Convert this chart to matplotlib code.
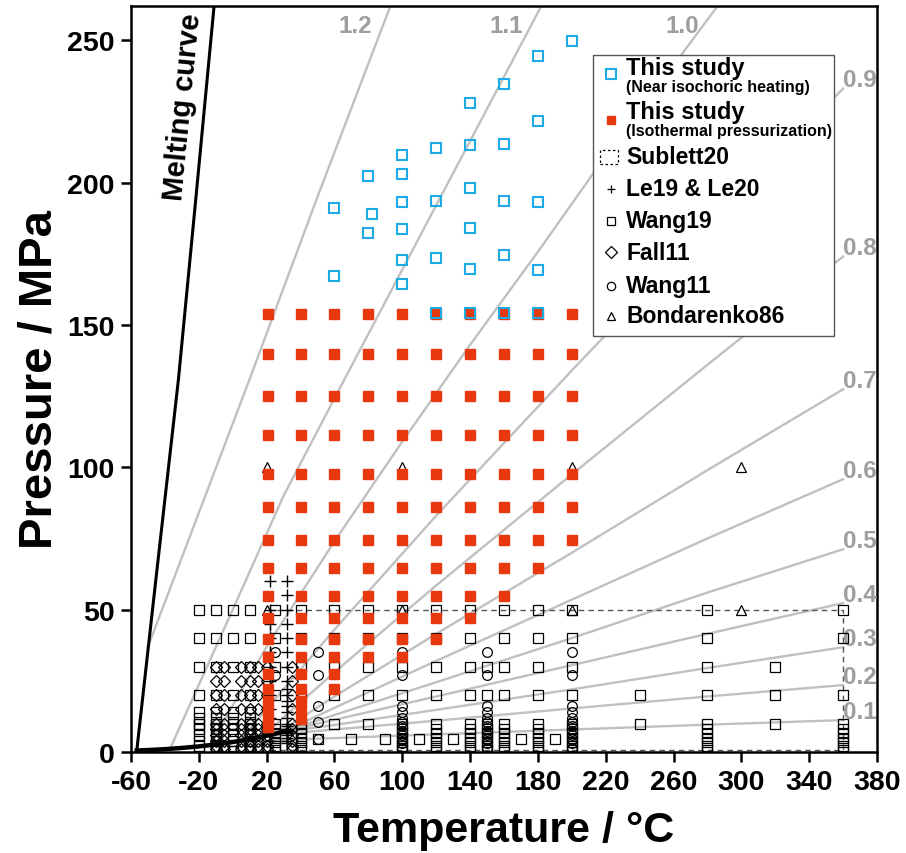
import matplotlib
matplotlib.use("Agg")
import matplotlib.pyplot as plt
from matplotlib.patches import Rectangle

plt.rcParams['font.family'] = ['Liberation Sans', 'DejaVu Sans']
plt.rcParams['font.weight'] = 'bold'
plt.rcParams['axes.unicode_minus'] = False

# CO2 liquid-vapour curve and melting curve
sat_T = [-56.6, -50, -40, -30, -20, -10, 0, 10, 20, 25, 31]
sat_P = [0.52, 0.68, 1.00, 1.43, 1.97, 2.65, 3.49, 4.50, 5.73, 6.43, 7.38]
melt_T = [-56.6, -44.5, -32, -21.5, -11]
melt_P = [0.5, 65, 131, 196, 262]

# isochores (g/cm3)
iso_rho = ['1.2', '1.1', '1.0', '0.9', '0.8', '0.7', '0.6', '0.5', '0.4', '0.3', '0.2', '0.1']
iso_T = [
    [-50, -27, 10, 50, 93],
    [-37, 0, 30, 66, 120, 182],
    [-13.5, 20, 60, 100, 140, 181, 213, 286],
    [4, 60, 120, 200, 280, 360],
    [17, 60, 120, 200, 280, 360],
    [26, 60, 120, 200, 280, 360],
    [30, 60, 120, 200, 280, 360],
    [31, 60, 120, 200, 280, 360],
    [30.7, 60, 120, 200, 280, 360],
    [28.5, 60, 120, 200, 280, 360],
    [20.5, 60, 120, 200, 280, 360],
    [0.7, 60, 120, 200, 280, 360],
]
iso_P = [
    [37, 73, 131, 195, 262],
    [1.1, 50, 90, 131, 192, 262],
    [2.4, 37, 74, 109, 143, 176.5, 203.5, 262],
    [3.9, 43, 83, 134, 184, 233],
    [5.3, 28, 58.5, 97.5, 136, 174],
    [6.6, 19.5, 41.5, 70, 99, 127.4],
    [7.2, 15.5, 32, 53.5, 75, 95.8],
    [7.38, 13, 24.5, 40, 56, 71.2],
    [7.3, 11.3, 19.5, 30.5, 41.5, 52.3],
    [6.9, 9.5, 14.8, 22, 29.5, 36.8],
    [5.8, 7.9, 11, 15.3, 19.5, 23.5],
    [3.55, 4.9, 6.2, 7.9, 9.6, 11.2],
]

# This study: near isochoric heating
blue_T = [200, 180, 160, 140, 180, 100, 120, 140, 160, 80, 100, 140, 60, 82, 100, 120,
          160, 180, 80, 100, 140, 160, 180, 100, 120, 140, 60, 100, 120, 140, 160, 180]
blue_P = [249.7, 244.4, 234.6, 227.8, 221.7, 209.8, 212, 213.2, 213.4, 202.2, 202.9, 198,
          191, 188.8, 193, 193.4, 193.6, 193.2, 182.2, 183.6, 183.9, 174.4, 169.2, 172.9,
          173.6, 169.5, 167, 164.2, 154.2, 154.2, 154.2, 154.2]

# This study: isothermal pressurization
red_T = [21, 40, 60, 80, 100, 120, 140, 160, 180, 200]
red_levels = [154, 139.7, 125.1, 111.4, 97.8, 86.1, 74.4, 64.6, 54.9, 47.1, 39.8, 33.2,
              27.3, 22.2, 17.9, 14.6, 11.6, 8.8]
red_Pmin = [8.8, 11.6, 22.2, 33.2, 33.2, 39.8, 47.1, 54.9, 64.6, 74.4]

# Sublett20 box
sub_T = [22, 360]
sub_P = [0.7, 50]

# Le19 & Le20
le_T = [22] * 14 + [32] * 26
le_P = [60, 50, 45, 40, 35, 30, 25, 20, 15, 12, 10, 8, 6, 4,
        60, 55, 50, 45, 40, 35, 30, 25, 22, 20, 18, 16, 14, 12, 10, 9, 8, 7.6, 7.4,
        7.2, 7, 6.5, 6, 5, 4, 3]

# Wang19
w19_T = [-20, -10, 0, 10, 25, 40, 60, 80, 100, 120, 140, 160, 180, 200, 280]
w19_P = [50, 40, 30, 20, 10]
w19_xT = [150, 150, 150, 240, 240, 320, 320, 320, 360, 360, 360, 360, 50, 70, 90, 110, 130, 170, 190]
w19_xP = [30, 20, 10, 20, 10, 30, 20, 10, 50, 40, 20, 10, 4.6, 4.6, 4.6, 4.6, 4.6, 4.6, 4.6]
w19_lowT = [-20, -10, 0, 10, 25, 40, 100, 120, 140, 150, 160, 180, 200, 280, 360]
w19_lowP = [8, 6.5, 5, 3.5, 2, 0.8]
w19_coldP = [14, 12, 10, 8, 6, 4, 2, 0.5]

# Fall11
fall_T = [-10, -5, 5, 10, 15, 20, 35]
fall_P = [30, 25, 20, 15, 10, 8, 6, 4, 2, 1]

# Wang11
w11_T = [25, 25, 50, 50, 50, 50, 50]
w11_P = [35, 27, 35, 27, 16, 10.5, 4.6]
w11_stackT = [100, 150, 200]
w11_stackP = [35, 27, 16, 14, 12, 10.5, 9, 7.5, 6, 4.6, 3, 1.5]

# Bondarenko86
bon_T = [20, 100, 200, 300, 20, 100, 200, 300]
bon_P = [100, 100, 100, 100, 50, 50, 50, 50]

BLUE = '#1dabe6'
RED = '#e8380d'
GRAY = '#c0c0c0'

fig = plt.figure(figsize=(9.06, 8.54), dpi=100)
ax = fig.add_axes([131 / 906, 1 - 753 / 854, 746 / 906, 746 / 854])
ax.set_xlim(-60, 380)
ax.set_ylim(0, 262)

# isochores + labels
for rho, t, p in zip(iso_rho, iso_T, iso_P):
    ax.plot(t, p, color=GRAY, lw=1.7, zorder=1)
    if p[-1] >= 262:
        ax.annotate(rho, (t[-1], p[-1]), xytext=(-35, -19), textcoords='offset pixels',
                    ha='center', va='center', color='#9e9e9e', fontsize=17.5, fontweight='bold')
    else:
        ax.annotate(rho, (t[-1], p[-1]), xytext=(0, 9), textcoords='offset pixels',
                    ha='left', va='center', color='#9e9e9e', fontsize=17.5, fontweight='bold',
                    annotation_clip=False)

ax.plot(melt_T, melt_P, color='black', lw=2.2, zorder=3)
ax.plot(sat_T, sat_P, color='black', lw=3.2, zorder=3)
ax.text(-29.5, 227, 'Melting curve', rotation=84.5, ha='center', va='center',
        fontsize=21, fontweight='bold')

# Sublett20
ax.add_patch(Rectangle((sub_T[0], sub_P[0]), sub_T[1] - sub_T[0], sub_P[1] - sub_P[0],
                       fill=False, ls=(0, (4, 3)), ec='#555555', lw=1, zorder=2))

mk = dict(ls='none', mfc='none', mec='black', mew=0.9, zorder=4)

# Wang19
wx, wy = [], []
for t in w19_T:
    for p in w19_P:
        wx.append(t); wy.append(p)
for t in w19_lowT:
    for p in (w19_coldP if t <= 10 else w19_lowP):
        wx.append(t); wy.append(p)
wx += w19_xT; wy += w19_xP
ax.plot(wx, wy, marker='s', ms=7, **mk)

# Fall11
fx, fy = [], []
for t in fall_T:
    for p in fall_P:
        fx.append(t); fy.append(p)
ax.plot(fx, fy, marker='D', ms=6, **mk)

# Wang11
cx, cy = list(w11_T), list(w11_P)
for t in w11_stackT:
    for p in w11_stackP:
        cx.append(t); cy.append(p)
ax.plot(cx, cy, marker='o', ms=7, **mk)

# Le19 & Le20
ax.plot(le_T, le_P, marker='+', ms=8, ls='none', color='black', mew=1.0, zorder=4)

# Bondarenko86
ax.plot(bon_T, bon_P, marker='^', ms=7, **mk)

# this study
rx, ry = [], []
for t, pmin in zip(red_T, red_Pmin):
    for p in red_levels:
        if p >= pmin:
            rx.append(t); ry.append(p)
ax.plot(rx, ry, marker='s', ms=6.5, ls='none', color=RED, mec=RED, zorder=5)
ax.plot(blue_T, blue_P, marker='s', ms=7.5, ls='none', mfc='none', mec=BLUE, mew=1.5, zorder=5)

# axes styling
ax.set_xticks(range(-60, 381, 40))
ax.set_yticks(range(0, 251, 50))
for s in ax.spines.values():
    s.set_linewidth(1.8)
ax.tick_params(direction='out', length=7, width=1.8, labelsize=20.5, pad=5)
for lab in ax.get_xticklabels() + ax.get_yticklabels():
    lab.set_fontweight('bold')
ax.set_xlabel('Temperature / °C', fontsize=31, fontweight='bold', labelpad=11)
ax.set_ylabel('Pressure / MPa', fontsize=34, fontweight='bold', labelpad=4)

# legend, drawn by hand in axes fraction
T = ax.transAxes
ax.add_patch(Rectangle((0.6193, 0.5576), 0.3231, 0.3767, transform=T, fc='white',
                       ec='#555555', lw=1, zorder=8))
mx, tx = 0.643, 0.664
ax.plot([mx], [0.909], transform=T, marker='s', ms=7, mfc='none', mec=BLUE, mew=1.5, zorder=9)
ax.text(tx, 0.9175, 'This study', transform=T, fontsize=17, va='center', zorder=9)
ax.text(tx, 0.8915, '(Near isochoric heating)', transform=T, fontsize=11.5, va='center', zorder=9)
ax.plot([mx], [0.847], transform=T, marker='s', ms=6, color=RED, zorder=9)
ax.text(tx, 0.8585, 'This study', transform=T, fontsize=17, va='center', zorder=9)
ax.text(tx, 0.8335, '(Isothermal pressurization)', transform=T, fontsize=11.5, va='center', zorder=9)
ax.add_patch(Rectangle((0.6287, 0.7876), 0.024, 0.020, transform=T, fill=False,
                       ls=(0, (2, 2)), ec='black', lw=0.9, zorder=9))
rows = [('+', 0.7547, 'Le19 & Le20'), ('s', 0.7118, 'Wang19'), ('D', 0.6702, 'Fall11'),
        ('o', 0.6247, 'Wang11'), ('^', 0.5845, 'Bondarenko86')]
ax.text(tx, 0.7976, 'Sublett20', transform=T, fontsize=16.5, va='center', zorder=9)
for m, y, lab in rows:
    ax.plot([mx], [y], transform=T, marker=m, ms=6, mfc='none', mec='black', color='black',
            mew=0.9, zorder=9)
    ax.text(tx, y, lab, transform=T, fontsize=16.5, va='center', zorder=9)

fig.savefig('out.png', dpi=100)
